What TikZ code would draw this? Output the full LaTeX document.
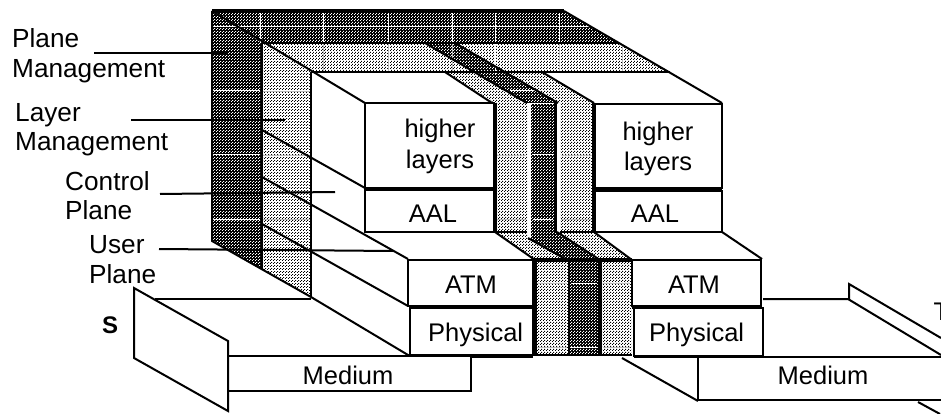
\documentclass[tikz,border=0pt]{standalone}
\usepackage{fontspec}
\setmainfont{Liberation Sans}
\usetikzlibrary{patterns}
\pgfdeclarepatternformonly{ditherdots}{\pgfqpoint{0pt}{0pt}}{\pgfqpoint{3pt}{3pt}}{\pgfqpoint{3pt}{3pt}}{%
  \pgfpathrectangle{\pgfqpoint{0pt}{0pt}}{\pgfqpoint{1.15pt}{1.15pt}}%
  \pgfpathrectangle{\pgfqpoint{1.5pt}{1.5pt}}{\pgfqpoint{1.15pt}{1.15pt}}%
  \pgfusepath{fill}}
\tikzset{
  ln/.style={draw=black,line width=2pt,line join=miter,line cap=butt},
  thick line/.style={draw=black,line width=3.2pt},
  darkf/.style={preaction={fill=black},pattern=ditherdots,pattern color=white},
  lightf/.style={preaction={fill=white},pattern=ditherdots,pattern color=black},
  wl/.style={draw=white,line width=1pt},
  fl/.style={draw=white!72!black,line width=0.8pt},
  boxf/.style={ln,fill=white},
  txt/.style={font=\fontsize{25.5}{30}\selectfont,inner sep=0pt,anchor=base west},
  ltxt/.style={font=\fontsize{26.2}{30}\selectfont,inner sep=0pt,anchor=base west},
  ctxt/.style={font=\fontsize{25.5}{30}\selectfont,inner sep=0pt,anchor=base},
}
\begin{document}
\begin{tikzpicture}[x=1pt,y=-1pt]
\useasboundingbox (0,0) rectangle (941,414);
\clip (0,0) rectangle (941,414);
% top bands
\fill[darkf] (212,11) -- (564,11) -- (619,43) -- (262,43) -- cycle;
\fill[lightf] (262,43) -- (619,43) -- (670,72) -- (311,72) -- cycle;
% left faces
\fill[darkf] (212,11) -- (262,43) -- (262,270) -- (212,241) -- cycle;
\fill[lightf] (262,43) -- (311,72) -- (311,297) -- (262,270) -- cycle;
% slanted strips on top
\fill[darkf] (425,43) -- (455,43) -- (557,103) -- (525,103) -- cycle;
% white lines in the dark and light textures
\foreach \xx in {260,323,388,452,495,559}{\draw[wl] (\xx,12) -- (\xx,43);}
\foreach \xx in {323,388,452,559,622}{\draw[fl] (\xx,44) -- (\xx,71);}
\draw[wl] (213,27) -- (592,27);
\foreach \yy in {91,155,219}{
  \draw[wl] (213,\yy) -- (260,\yy);
  \draw[fl] (263,\yy) -- (310,\yy);
}
% white top faces
\fill[white] (311,72) -- (445,72) -- (495,103) -- (365,103) -- cycle;
\fill[white] (542,72) -- (670,72) -- (722,103) -- (593,103) -- cycle;
% strips across the white top faces
\fill[lightf] (445,72) -- (473,72) -- (525,103) -- (495,103) -- cycle;
\fill[lightf] (504,72) -- (542,72) -- (593,103) -- (557,103) -- cycle;
\fill[darkf] (473,72) -- (504,72) -- (557,103) -- (525,103) -- cycle;
\draw[wl] (495,44) -- (495,74);
\draw[wl] (510,91) -- (536,91);
% column behind upper boxes
\fill[lightf] (496,104) rectangle (527,232);
\fill[darkf] (531,104) rectangle (556,232);
\fill[lightf] (560,104) rectangle (594,232);
\draw[wl] (533,155) -- (553,155);
\draw[wl] (533,219) -- (553,219);
\draw[fl] (497,155) -- (526,155);
\draw[fl] (497,219) -- (526,219);
\draw[fl] (561,155) -- (593,155);
\draw[fl] (561,219) -- (593,219);
% slanted strips below upper column
\fill[lightf] (495,232) -- (527,232) -- (528,238) -- (567,260) -- (535,260) -- cycle;
\fill[darkf] (531,232) -- (556,232) -- (600,260) -- (567,260) -- (531,240) -- cycle;
\fill[lightf] (560,232) -- (594,232) -- (632,260) -- (600,260) -- (560,235) -- cycle;
% lower column
\fill[lightf] (536,260) rectangle (568,355);
\fill[darkf] (570,260) rectangle (598,355);
\fill[lightf] (602,260) rectangle (631,355);
\draw[wl] (571,283) -- (597,283);
\draw[wl] (571,347) -- (597,347);
\draw[fl] (537,283) -- (567,283);
\draw[fl] (537,347) -- (567,347);
\draw[fl] (603,283) -- (630,283);
\draw[fl] (603,347) -- (630,347);
% structural lines of upper parts
\draw[thick line] (212,11) -- (564,11);
\draw[ln] (212,11) -- (212,241) -- (311,297) -- (408,355);
\draw[ln] (212,11) -- (365,103);
\draw[ln] (262,43) -- (262,270);
\draw[ln] (311,72) -- (311,297);
\draw[ln] (262,43) -- (619,43);
\draw[ln] (311,72) -- (670,72);
\draw[ln] (564,11) -- (722,103);
\draw[ln] (445,72) -- (492,103);
\draw[ln] (425,43) -- (527,103);
\draw[ln] (455,43) -- (558,103);
\draw[ln] (542,72) -- (594,103);
% lines on the left faces
\draw[ln] (262,130) -- (365,188);
\draw[ln] (262,177) -- (408,259);
\draw[ln] (262,224) -- (408,306);
% lines of column
\draw[thick line] (555.5,103) -- (555.5,233);
\draw[ln] (495,232) -- (535,260);
\draw[ln] (528,238) -- (567,260);
\draw[ln] (557,232) -- (600,260);
\draw[ln] (594,232) -- (632,260);
\draw[ln] (722,232) -- (762,259);
\draw[ln] (569,260) -- (569,355);
\draw[thick line] (600,260) -- (600,355);
\draw[thick line] (535,260) -- (535,355);
\draw[thick line] (533,260) -- (632,260);
\draw[ln] (533,355) -- (632,355);
\draw[ln] (496,232) -- (527,232);
\draw[ln] (560,232) -- (594,232);
% upper boxes
\path[boxf] (365,103) rectangle (494,188);
\path[boxf] (365,190) rectangle (494,232);
\path[boxf] (595,104) rectangle (722,188);
\path[boxf] (595,191) rectangle (722,232);
\draw[thick line] (365,189) -- (494,189);
\draw[thick line] (595,189) -- (722,189);
\draw[thick line] (495,103) -- (495,233);
\draw[thick line] (594,103) -- (594,233);
% lower boxes
\path[boxf] (408,260) rectangle (533,306);
\path[boxf] (410,308) rectangle (533,355);
\path[boxf] (632,260) rectangle (761,306);
\path[boxf] (634,308) rectangle (763,356);
\draw[thick line] (632,307) -- (762,307);
\draw[thick line] (408,356) -- (533,356);
% S side: medium and flap
\draw[ln,fill=white] (228,356) -- (471,356) -- (471,391) -- (228,391);
\draw[ln] (155,299) -- (311,299);
\path[boxf] (134,288) -- (228,341) -- (228,411) -- (134,358) -- cycle;
% T side
\draw[ln] (763,299) -- (848,299) -- (941,355);
\draw[ln] (849,299) -- (849,284) -- (941,338);
\draw[ln] (622,358) -- (698,401);
\draw[ln] (634,357) -- (941,357);
\path[boxf] (698,357) rectangle (950,400);
\draw[ln] (918,402) -- (940,414);
% labels and leaders
\node[ltxt] (lp1) at (12,48) {Plane};
\node[ltxt] (lp2) at (12,78) {Management};
\node[ltxt] (ll1) at (15,122) {Layer};
\node[ltxt] (ll2) at (15,150) {Management};
\node[ltxt] (lc1) at (65,190) {Control};
\node[ltxt] (lc2) at (65,219) {Plane};
\node[ltxt] (lu1) at (89,253) {User};
\node[ltxt] (lu2) at (89,283) {Plane};
\coordinate (ps) at (94,53);
\coordinate (ls) at (131,120);
\coordinate (cs) at (160,194);
\coordinate (us) at (159,249);
\coordinate (pe) at (228,53);
\coordinate (le) at (285,120);
\coordinate (ce) at (335,192);
\coordinate (ue) at (393,251);
\draw[ln] (ps) -- (pe);
\draw[ln] (ls) -- (le);
\draw[ln] (cs) -- (ce);
\draw[ln] (us) -- (ue);
% text
\node[ctxt] (h1) at (440,138) {higher};
\node[ctxt] (y1) at (440,168) {layers};
\node[ctxt] (h2) at (658,141) {higher};
\node[ctxt] (y2) at (658,171) {layers};
\node[ctxt] (a1) at (433,222) {AAL};
\node[ctxt] (a2) at (655,222) {AAL};
\node[ctxt] (t1) at (471,293) {ATM};
\node[ctxt] (t2) at (694,293) {ATM};
\node[txt] (p1) at (428,341) {Physical};
\node[txt] (p2) at (649,341) {Physical};
\node[ctxt] (m1) at (348,384) {Medium};
\node[ctxt] (m2) at (823,384) {Medium};
\node[txt,font=\fontsize{24}{28}\selectfont\bfseries] (s) at (102,333) {S};
\node[txt] (t) at (933.5,320) {T};
\end{tikzpicture}
\end{document}
